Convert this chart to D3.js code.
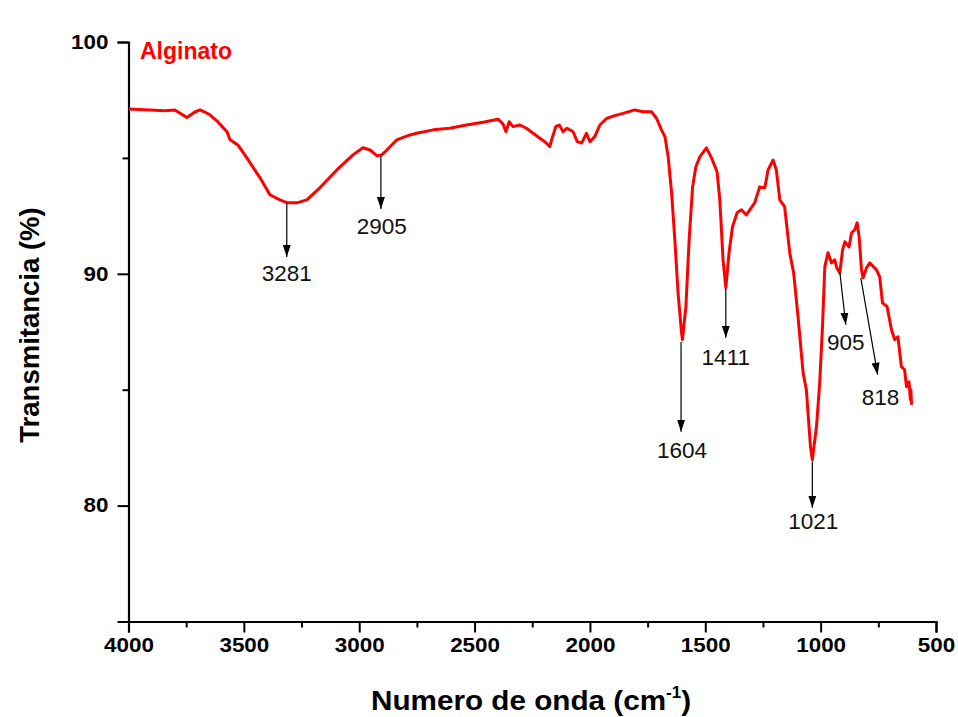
<!DOCTYPE html>
<html>
<head>
<meta charset="utf-8">
<script src="https://cdn.jsdelivr.net/npm/d3@7"></script>
<style>
  body { margin: 0; background: #fff; }
  svg { display: block; }
  text { font-family: "Liberation Sans", Arial, sans-serif; }
</style>
</head>
<body>
<svg id="chart" width="958" height="717"></svg>
<script>
// FTIR spectrum (cm-1, %T)
const wavenumber = [
  3998, 3907, 3842, 3799, 3747, 3712, 3690, 3669, 3646, 3612, 3573, 3560, 3526, 3487, 3430, 3387,
  3344, 3314, 3270, 3227, 3171, 3097, 3027, 2984, 2953, 2923, 2902, 2880, 2837, 2780, 2751, 2679,
  2607, 2535, 2463, 2398, 2377, 2364, 2350, 2333, 2304, 2275, 2246, 2217, 2196, 2174, 2166, 2148,
  2133, 2116, 2099, 2073, 2055, 2036, 2015, 2000, 1979, 1957, 1928, 1900, 1856, 1806, 1770, 1733,
  1711, 1690, 1675, 1661, 1646, 1632, 1618, 1603, 1599, 1584, 1570, 1555, 1541, 1524, 1495, 1473,
  1449, 1437, 1423, 1411, 1397, 1382, 1362, 1343, 1322, 1286, 1264, 1242, 1228, 1206, 1192, 1177,
  1156, 1134, 1117, 1098, 1076, 1062, 1044, 1036, 1018, 1004, 992, 982, 968, 953, 939, 930,
  917, 905, 895, 877, 866, 852, 842, 833, 823, 816, 801, 787, 758, 744, 732, 712,
  693, 679, 665, 650, 636, 628, 617, 611, 609, 606
];
const transmittance = [
  97.11, 97.07, 97.03, 97.07, 96.74, 96.98, 97.07, 96.98, 96.85, 96.55, 96.13, 95.78, 95.56, 95.00, 94.14, 93.41,
  93.19, 93.07, 93.06, 93.19, 93.71, 94.48, 95.13, 95.44, 95.34, 95.09, 95.13, 95.34, 95.78, 95.99, 96.06, 96.21,
  96.28, 96.42, 96.54, 96.67, 96.47, 96.13, 96.56, 96.35, 96.42, 96.28, 96.06, 95.85, 95.70, 95.49, 95.78, 96.35,
  96.42, 96.13, 96.28, 96.13, 95.70, 95.64, 96.06, 95.70, 95.92, 96.42, 96.70, 96.80, 96.92, 97.07, 96.99, 96.99,
  96.70, 96.21, 95.92, 95.06, 93.49, 91.47, 89.18, 87.46, 87.16, 88.58, 91.47, 93.75, 94.61, 95.04, 95.43, 95.00,
  94.40, 93.19, 90.60, 89.40, 90.91, 92.03, 92.63, 92.76, 92.54, 93.06, 93.75, 93.71, 94.48, 94.91, 94.48, 93.19,
  92.89, 90.91, 90.04, 88.15, 85.73, 85.00, 82.54, 81.98, 83.41, 85.30, 87.72, 90.30, 90.91, 90.47, 90.60, 90.26,
  90.04, 91.03, 91.38, 91.16, 91.77, 91.90, 92.20, 91.59, 90.17, 89.83, 90.26, 90.47, 90.17, 89.87, 88.75, 88.58,
  87.59, 87.16, 87.28, 85.99, 85.86, 85.13, 85.34, 84.57, 85.00, 84.35
];

const xTicks = [4000, 3500, 3000, 2500, 2000, 1500, 1000, 500];
const xMinorTicks = [3750, 3250, 2750, 2250, 1750, 1250, 750];
const yTicks = [80, 90, 100];
const yMinorTicks = [75, 85, 95];

// peak annotations: arrow from the curve down to the label
const peakLabels = ["3281", "2905", "1604", "1411", "1021", "905", "818"];
const arrowFromW = [3314, 2906, 1605, 1411, 1036, 917, 826];
const arrowFromT = [93.06, 95.09, 87.07, 89.35, 81.90, 90.09, 89.83];
const arrowToW = [3314, 2906, 1605, 1411, 1036, 891, 753];
const arrowToT = [90.73, 92.80, 83.19, 87.24, 79.91, 87.80, 85.65];
const labelW = [3314, 2902, 1601, 1411, 1032, 891, 740];
const labelT = [90.04, 92.07, 82.41, 86.42, 79.31, 87.07, 84.70];

const svg = d3.select("#chart");
const plotLeft = 128.5, plotRight = 936, plotTop = 42, plotBottom = 621.5;

const x = d3.scaleLinear().domain([4000, 500]).range([plotLeft, plotRight]);
const y = d3.scaleLinear().domain([75, 100]).range([plotBottom, plotTop]);

// axes
const xAxis = svg.append("g")
    .attr("transform", `translate(0,${plotBottom})`)
    .call(d3.axisBottom(x).tickValues(xTicks).tickSize(11).tickPadding(6).tickFormat(d3.format("d")));
svg.append("g")
    .attr("transform", `translate(0,${plotBottom})`)
    .call(d3.axisBottom(x).tickValues(xMinorTicks).tickSize(6).tickFormat(""))
    .select(".domain").remove();

const yAxis = svg.append("g")
    .attr("transform", `translate(${plotLeft},0)`)
    .call(d3.axisLeft(y).tickValues(yTicks).tickSize(11).tickPadding(8).tickFormat(d3.format("d")));
svg.append("g")
    .attr("transform", `translate(${plotLeft},0)`)
    .call(d3.axisLeft(y).tickValues(yMinorTicks).tickSize(6).tickFormat(""))
    .select(".domain").remove();

svg.selectAll(".domain").attr("stroke", "#000").attr("stroke-width", 2.2);
svg.selectAll(".tick line").attr("stroke", "#000").attr("stroke-width", 2);

xAxis.selectAll(".tick text")
    .attr("font-size", 19.5).attr("font-weight", "bold").attr("fill", "#000")
    .attr("transform", "scale(1.15,1)");
yAxis.selectAll(".tick text")
    .attr("font-size", 19.5).attr("font-weight", "bold").attr("fill", "#000")
    .attr("x", -20 / 1.15)
    .attr("transform", "scale(1.15,1)");

// axis titles
svg.append("text")
    .attr("transform", `translate(39,325) rotate(-90)`)
    .attr("text-anchor", "middle")
    .attr("font-size", 27.5).attr("font-weight", "bold")
    .text("Transmitancia (%)");

const xTitle = svg.append("text")
    .attr("transform", "translate(531,710) scale(1.06,1)")
    .attr("text-anchor", "middle")
    .attr("font-size", 28).attr("font-weight", "bold");
xTitle.append("tspan").text("Numero de onda (cm");
xTitle.append("tspan").attr("dy", -12).attr("font-size", 16).text("-1");
xTitle.append("tspan").attr("dy", 12).text(")");

// spectrum
const line = d3.line()
    .x((d, i) => x(wavenumber[i]))
    .y(d => y(d));

svg.append("path")
    .datum(transmittance)
    .attr("fill", "none")
    .attr("stroke", "#ff0000")
    .attr("stroke-width", 3)
    .attr("stroke-linejoin", "round")
    .attr("d", line);

svg.append("text")
    .attr("x", 140).attr("y", 59)
    .attr("fill", "#ff0000")
    .attr("font-size", 23).attr("font-weight", "bold")
    .text("Alginato");

// arrows
svg.append("defs").append("marker")
    .attr("id", "head")
    .attr("viewBox", "0 0 12 8")
    .attr("refX", 12).attr("refY", 4)
    .attr("markerWidth", 12).attr("markerHeight", 8)
    .attr("markerUnits", "userSpaceOnUse")
    .attr("orient", "auto")
    .append("path")
    .attr("d", "M0,0L12,4L0,8Z")
    .attr("fill", "#000");

const peaks = svg.append("g");
peakLabels.forEach((lab, i) => {
    peaks.append("line")
        .attr("x1", x(arrowFromW[i])).attr("y1", y(arrowFromT[i]))
        .attr("x2", x(arrowToW[i])).attr("y2", y(arrowToT[i]))
        .attr("stroke", "#000").attr("stroke-width", 1.2)
        .attr("marker-end", "url(#head)");
    peaks.append("text")
        .attr("x", x(labelW[i])).attr("y", y(labelT[i]))
        .attr("dy", "0.35em")
        .attr("text-anchor", "middle")
        .attr("font-size", 22.5)
        .attr("fill", "#111")
        .text(lab);
});
</script>
</body>
</html>
